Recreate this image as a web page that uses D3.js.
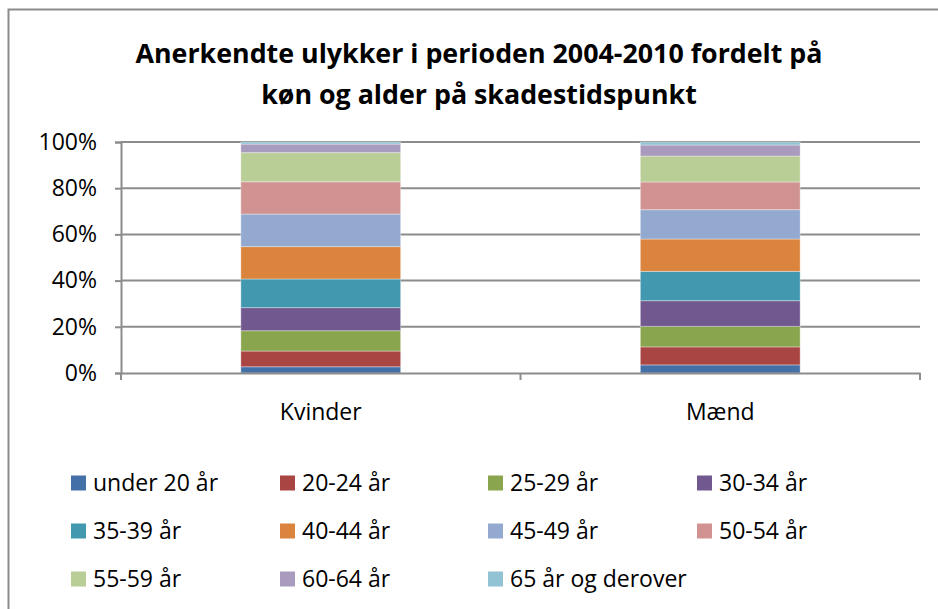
<!DOCTYPE html>
<html>
<head>
<meta charset="utf-8">
<script src="https://cdn.jsdelivr.net/npm/d3@7"></script>
<style>
  body { margin: 0; background: #fff; }
  svg { font-family: "Open Sans", sans-serif; }
</style>
</head>
<body>
<div id="chart"></div>
<script>
const categories = ["Kvinder", "Mænd"];
const ageGroups = ["under 20 år", "20-24 år", "25-29 år", "30-34 år", "35-39 år", "40-44 år",
                   "45-49 år", "50-54 år", "55-59 år", "60-64 år", "65 år og derover"];
// percent share of each age group, per category
const kvinder = [2.7, 6.8, 8.8, 10.0, 12.4, 14.0, 14.1, 14.0, 12.6, 3.7, 0.9];
const maend   = [3.5, 7.8, 8.9, 11.1, 12.7, 14.0, 12.7, 12.0, 11.2, 4.8, 1.3];
const colors  = ["#4470a8", "#a94542", "#89a54e", "#71588f", "#4198af", "#db843d",
                 "#93a9cf", "#d19392", "#b9cd96", "#a99bbd", "#92c3d4"];
const yTicks = [0, 20, 40, 60, 80, 100];

const width = 938, height = 609;
const margin = {top: 142, right: 18, bottom: 236, left: 121};
const w = width - margin.left - margin.right,
      h = height - margin.top - margin.bottom;

const svg = d3.select("#chart").append("svg")
    .attr("width", width)
    .attr("height", height);

// outer frame
svg.append("rect")
    .attr("x", 8.5).attr("y", 9.5)
    .attr("width", width + 10).attr("height", height + 10)
    .attr("fill", "none").attr("stroke", "#8c8c8c").attr("stroke-width", 2);

svg.append("text")
    .attr("x", 479).attr("y", 63)
    .attr("text-anchor", "middle")
    .style("font-weight", "bold").style("font-size", "26.8px")
    .selectAll("tspan")
    .data(["Anerkendte ulykker i perioden 2004-2010 fordelt på", "køn og alder på skadestidspunkt"])
    .enter().append("tspan")
    .attr("x", 479)
    .attr("dy", (d, i) => i === 0 ? 0 : 41)
    .text(d => d);

const g = svg.append("g").attr("transform", "translate(" + margin.left + "," + margin.top + ")");

const x = d3.scaleBand().domain(categories).range([0, w]).paddingInner(0).paddingOuter(0);
const y = d3.scaleLinear().domain([0, 100]).range([h, 0]);

// gridlines
g.append("g")
  .selectAll("line")
  .data(yTicks.filter(d => d > 0))
  .enter().append("line")
  .attr("x1", 0).attr("x2", w)
  .attr("y1", d => y(d)).attr("y2", d => y(d))
  .attr("stroke", "#8c8c8c").attr("stroke-width", 2);

// stack data
const table = categories.map((c, i) => {
  const row = {cat: c};
  const vals = i === 0 ? kvinder : maend;
  ageGroups.forEach((a, j) => row[a] = vals[j]);
  return row;
});
const series = d3.stack().keys(ageGroups).offset(d3.stackOffsetExpand)(table);

const barW = x.bandwidth() * 0.4;
g.append("g")
  .selectAll("g")
  .data(series)
  .enter().append("g")
  .attr("fill", (d, i) => colors[i])
  .selectAll("rect")
  .data(d => d)
  .enter().append("rect")
  .attr("x", d => x(d.data.cat) + (x.bandwidth() - barW) / 2)
  .attr("width", barW)
  .attr("y", d => y(d[1] * 100))
  .attr("height", d => y(d[0] * 100) - y(d[1] * 100))
  .attr("stroke", "rgba(255,255,255,0.35)").attr("stroke-width", 1);

// y axis
const yAxis = g.append("g")
  .call(d3.axisLeft(y).tickValues(yTicks).tickFormat(d => d + "%").tickSize(6).tickPadding(18));
yAxis.select(".domain").attr("stroke", "#8c8c8c").attr("stroke-width", 2);
yAxis.selectAll(".tick line").attr("stroke", "#8c8c8c").attr("stroke-width", 2);
yAxis.selectAll("text").style("font-size", "23px").attr("fill", "#000")
  .attr("font-family", "Open Sans");

// x axis
const xAxis = g.append("g")
  .attr("transform", "translate(0," + h + ")")
  .call(d3.axisBottom(x).tickSize(0).tickPadding(31));
xAxis.select(".domain").attr("stroke", "#8c8c8c").attr("stroke-width", 2);
xAxis.selectAll("text").style("font-size", "23px").attr("fill", "#000")
  .attr("font-family", "Open Sans");
// category separator ticks
g.append("g")
  .selectAll("line")
  .data([0, w / 2, w])
  .enter().append("line")
  .attr("x1", d => d).attr("x2", d => d)
  .attr("y1", h).attr("y2", h + 7)
  .attr("stroke", "#8c8c8c").attr("stroke-width", 2);

// legend
const legendCols = [71, 280, 488, 697];
const legendRows = [483, 531, 579];
const legend = svg.append("g")
  .selectAll("g")
  .data(ageGroups)
  .enter().append("g")
  .attr("transform", (d, i) => "translate(" + legendCols[i % 4] + "," + legendRows[Math.floor(i / 4)] + ")");
legend.append("rect")
  .attr("x", 0).attr("y", -7.5)
  .attr("width", 15).attr("height", 15)
  .attr("fill", (d, i) => colors[i]);
legend.append("text")
  .attr("x", 22).attr("y", 8)
  .style("font-size", "23px")
  .text(d => d);
</script>
</body>
</html>
